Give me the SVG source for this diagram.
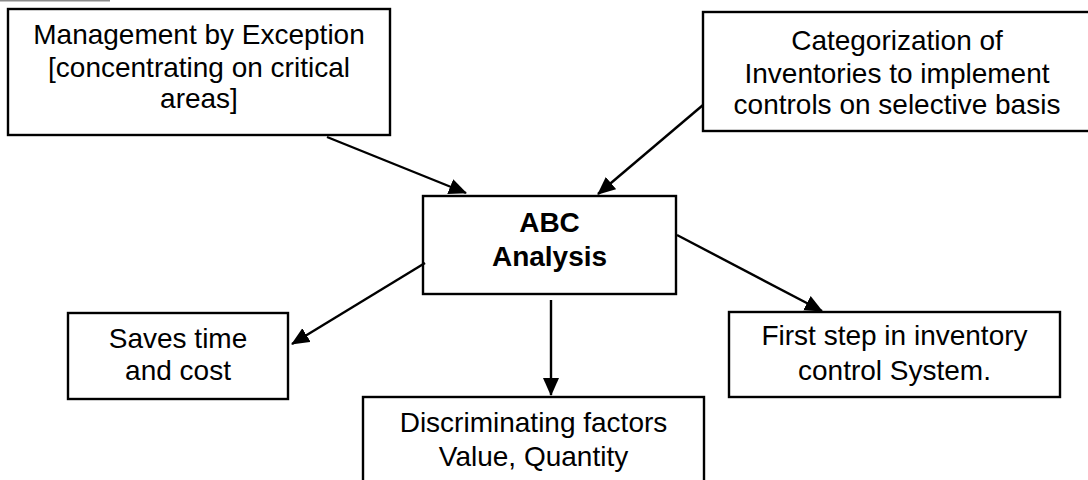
<svg xmlns="http://www.w3.org/2000/svg" width="1088" height="480" viewBox="0 0 1088 480">
  <style>
    .box { fill: #ffffff; stroke: #000000; stroke-width: 2.4; }
    .lbl { font-family: "Liberation Sans", Arial, sans-serif; font-size: 28px; fill: #000000; text-anchor: middle; }
    .bold { font-weight: bold; }
    .edge { stroke: #000000; stroke-width: 2.4; fill: none; marker-end: url(#arrow); }
  </style>
  <defs>
    <marker id="arrow" markerUnits="userSpaceOnUse" markerWidth="20" markerHeight="18" refX="17" refY="8" orient="auto">
      <path d="M0,0 L18,8 L0,16 Z" fill="#000000"/>
    </marker>
  </defs>

  <rect width="1088" height="480" fill="#ffffff"/>
  <!-- short rule at the top edge -->
  <line x1="0" y1="0.8" x2="110" y2="0.8" stroke="#8c8c8c" stroke-width="1.6"/>

  <g id="mgmt-exception">
    <rect class="box" x="8" y="9" width="382" height="126"/>
    <text class="lbl" x="199" y="44">Management by Exception</text>
    <text class="lbl" x="199" y="77">[concentrating on critical</text>
    <text class="lbl" x="199" y="108">areas]</text>
  </g>

  <g id="categorization">
    <rect class="box" x="703" y="12" width="390" height="119"/>
    <text class="lbl" x="897" y="50">Categorization of</text>
    <text class="lbl" x="897" y="83">Inventories to implement</text>
    <text class="lbl" x="897" y="114">controls on selective basis</text>
  </g>

  <g id="abc-analysis">
    <rect class="box" x="423" y="196" width="253" height="98"/>
    <text class="lbl bold" x="549.5" y="232">ABC</text>
    <text class="lbl bold" x="549.5" y="266">Analysis</text>
  </g>

  <g id="saves-time">
    <rect class="box" x="68" y="313" width="220" height="86"/>
    <text class="lbl" x="178" y="348">Saves time</text>
    <text class="lbl" x="178" y="380">and cost</text>
  </g>

  <g id="discriminating">
    <rect class="box" x="363" y="397" width="341" height="90"/>
    <text class="lbl" x="533.5" y="432">Discriminating factors</text>
    <text class="lbl" x="533.5" y="466">Value, Quantity</text>
  </g>

  <g id="first-step">
    <rect class="box" x="729" y="312" width="331" height="85"/>
    <text class="lbl" x="894.5" y="345">First step in inventory</text>
    <text class="lbl" x="894.5" y="380">control System.</text>
  </g>

  <g id="connectors">
    <line class="edge" x1="327" y1="137" x2="466" y2="193"/>
    <line class="edge" x1="703" y1="105" x2="598" y2="194"/>
    <line class="edge" x1="425" y1="263" x2="292" y2="344"/>
    <line class="edge" x1="551" y1="300" x2="551" y2="395"/>
    <line class="edge" x1="677" y1="235" x2="822" y2="311"/>
  </g>
</svg>
